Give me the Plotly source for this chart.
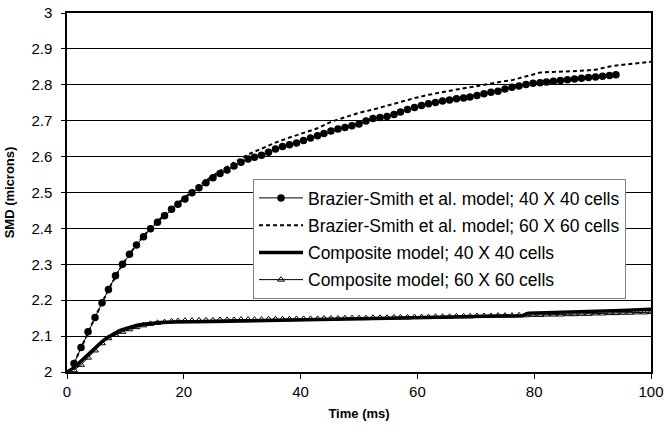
import plotly.graph_objects as go

# Common output times (ms) for the fine-sampled runs
t_fine = [1.2, 2.4, 3.6, 4.8, 6.0, 7.1, 8.3, 9.5, 10.7, 11.9, 13.1, 14.3, 15.5, 16.7,
          17.9, 19.0, 20.2, 21.4, 22.6, 23.8, 25.0, 26.2, 27.4, 28.6, 29.8, 31.0, 32.1,
          33.3, 34.5, 35.7, 36.9, 38.1, 39.3, 40.5, 41.7, 42.9, 44.0, 45.2, 46.4, 47.6,
          48.8, 50.0, 51.2, 52.4, 53.6, 54.8, 56.0, 57.1, 58.3, 59.5, 60.7, 61.9, 63.1,
          64.3, 65.5, 66.7, 67.9, 69.0, 70.2, 71.4, 72.6, 73.8, 75.0, 76.2, 77.4, 78.6,
          79.8, 81.0, 82.1, 83.3, 84.5, 85.7, 86.9, 88.1, 89.3, 90.5, 91.7, 92.9, 94.0,
          95.2, 96.4, 97.6, 98.8, 100.0]

# Brazier-Smith et al. model, 40 x 40 cells (runs to ~94 ms)
smd_bs40 = [2.024, 2.068, 2.112, 2.152, 2.193, 2.230, 2.268, 2.300, 2.328, 2.354, 2.377,
            2.399, 2.417, 2.435, 2.453, 2.467, 2.482, 2.499, 2.513, 2.527, 2.541, 2.553,
            2.563, 2.574, 2.584, 2.593, 2.598, 2.604, 2.612, 2.621, 2.628, 2.633, 2.638,
            2.645, 2.652, 2.658, 2.664, 2.671, 2.677, 2.681, 2.686, 2.691, 2.699, 2.706,
            2.709, 2.712, 2.717, 2.724, 2.731, 2.737, 2.742, 2.747, 2.751, 2.755, 2.758,
            2.761, 2.763, 2.766, 2.770, 2.775, 2.779, 2.782, 2.788, 2.793, 2.797, 2.801,
            2.804, 2.806, 2.808, 2.810, 2.812, 2.814, 2.816, 2.818, 2.820, 2.822, 2.824,
            2.826, 2.828]

# Brazier-Smith et al. model, 60 x 60 cells
t_bs60 = [1.2, 2.4, 4.8, 7.1, 9.5, 11.9, 14.3, 16.7, 19.0, 21.4, 23.8, 26.2, 28.6, 31.0,
          33.3, 35.7, 38.1, 40.5, 42.9, 45.2, 47.6, 50.0, 52.4, 54.8, 57.1, 59.5, 61.9,
          64.3, 66.7, 69.0, 71.4, 73.8, 76.2, 78.6, 81.0, 83.3, 85.7, 88.1, 90.5, 92.9,
          95.2, 97.6, 100.0]
smd_bs60 = [2.024, 2.068, 2.152, 2.230, 2.300, 2.355, 2.401, 2.438, 2.471, 2.503, 2.533,
            2.560, 2.583, 2.606, 2.622, 2.639, 2.653, 2.665, 2.679, 2.697, 2.710, 2.722,
            2.731, 2.742, 2.752, 2.763, 2.772, 2.780, 2.787, 2.793, 2.801, 2.807, 2.813,
            2.823, 2.834, 2.836, 2.837, 2.839, 2.842, 2.851, 2.856, 2.860, 2.864]

# Composite model, 40 x 40 cells
t_comp40 = [0, 1, 2, 3, 4, 5, 6, 7, 8, 9, 10, 11, 12, 13, 14, 16, 18, 20, 25, 30, 35,
            40, 45, 50, 55, 60, 65, 70, 75, 78, 79, 85, 90, 95, 100]
smd_comp40 = [2.000, 2.010, 2.024, 2.040, 2.056, 2.071, 2.085, 2.097, 2.107, 2.115, 2.121,
              2.126, 2.130, 2.133, 2.135, 2.138, 2.139, 2.140, 2.141, 2.142, 2.143, 2.144,
              2.146, 2.148, 2.150, 2.151, 2.152, 2.153, 2.155, 2.157, 2.164, 2.166, 2.168,
              2.171, 2.175]

# Composite model, 60 x 60 cells
smd_comp60 = [2.005, 2.020, 2.040, 2.060, 2.080, 2.094, 2.104, 2.112, 2.119, 2.125, 2.130,
              2.134, 2.137, 2.139, 2.141, 2.142, 2.143, 2.143, 2.144, 2.144, 2.144, 2.145,
              2.145, 2.145, 2.146, 2.146, 2.146, 2.146, 2.147, 2.147, 2.147, 2.147, 2.148,
              2.148, 2.148, 2.148, 2.149, 2.149, 2.149, 2.150, 2.150, 2.150, 2.150, 2.151,
              2.151, 2.151, 2.152, 2.152, 2.152, 2.153, 2.153, 2.153, 2.154, 2.154, 2.154,
              2.155, 2.155, 2.155, 2.156, 2.156, 2.156, 2.157, 2.157, 2.157, 2.158, 2.158,
              2.159, 2.159, 2.160, 2.160, 2.160, 2.161, 2.161, 2.162, 2.162, 2.163, 2.163,
              2.164, 2.164, 2.165, 2.165, 2.166, 2.166, 2.167]

names = ["Brazier-Smith et al. model; 40 X 40 cells",
         "Brazier-Smith et al. model; 60 X 60 cells",
         "Composite model; 40 X 40 cells",
         "Composite model; 60 X 60 cells"]

FONT = "Arial, Liberation Sans, Helvetica, sans-serif"

fig = go.Figure()
fig.add_trace(go.Scatter(
    x=t_fine[:len(smd_bs40)], y=smd_bs40, name=names[0], legendgroup="a",
    mode="lines+markers", line=dict(color="black", width=1),
    marker=dict(symbol="circle", size=7.5, color="black")))
fig.add_trace(go.Scatter(
    x=t_bs60, y=smd_bs60, name=names[1], legendgroup="b",
    mode="lines", line=dict(color="black", width=2, dash="4px,3px")))
fig.add_trace(go.Scatter(
    x=t_comp40, y=smd_comp40, name=names[2], legendgroup="c",
    mode="lines", line=dict(color="black", width=3.5)))
fig.add_trace(go.Scatter(
    x=t_fine, y=smd_comp60, name=names[3], legendgroup="d",
    mode="lines+markers", line=dict(color="black", width=1),
    marker=dict(symbol="triangle-up-open", size=6, color="black",
                line=dict(width=1, color="black"))))

fig.update_layout(
    width=664, height=426,
    margin=dict(l=67, r=13, t=13, b=54, autoexpand=False),
    paper_bgcolor="white", plot_bgcolor="white",
    font=dict(family=FONT, color="black", size=14),
    showlegend=True,
    legend=dict(x=0.3185, y=0.5376, xanchor="left", yanchor="top",
                bgcolor="white", bordercolor="#7f7f7f", borderwidth=1,
                font=dict(size=17.5, family=FONT), tracegroupgap=1.5,
                itemwidth=44),
)
fig.update_xaxes(
    range=[0, 100], dtick=20, showgrid=False, zeroline=False, automargin=False,
    showline=True, linecolor="black", linewidth=1.5, mirror=True,
    ticks="outside", ticklen=5, tickcolor="black",
    tickfont=dict(size=15),
    title=dict(text="<b>Time (ms)</b>", font=dict(size=13), standoff=10))
fig.update_yaxes(
    range=[2, 3], dtick=0.1, showgrid=True, gridcolor="black", gridwidth=1,
    zeroline=False, showline=True, linecolor="black", linewidth=1.5, mirror=True,
    automargin=False, ticks="outside", ticklen=4, tickcolor="black",
    ticklabelstandoff=6, tickfont=dict(size=15),
    title=dict(text="<b>SMD (microns)</b>", font=dict(size=13), standoff=14))

fig.write_html("out.html")
